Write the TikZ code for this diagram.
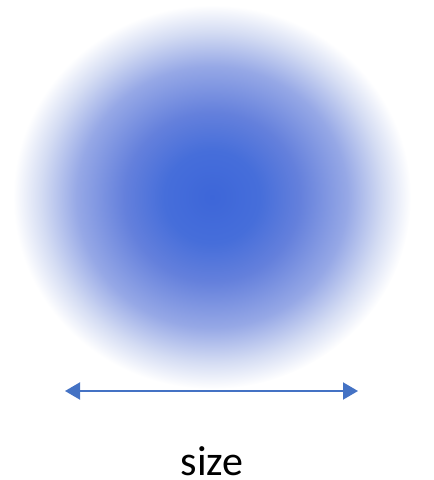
\documentclass[tikz,border=0pt]{standalone}
\usepackage{fontspec}
\setmainfont{Carlito}
\usetikzlibrary{arrows.meta,shapes.geometric}
\definecolor{arrowblue}{HTML}{4472C4}
\definecolor{c0}{RGB}{61,102,217}
\definecolor{c1}{RGB}{70,110,218}
\definecolor{c2}{RGB}{100,128,220}
\definecolor{c3}{RGB}{150,168,230}
\definecolor{c4}{RGB}{212,220,243}
\pgfdeclareradialshading{ball}{\pgfpoint{0bp}{0bp}}{color(0bp)=(c0); color(6bp)=(c1); color(11bp)=(c2); color(17bp)=(c3); color(21.5bp)=(c4); color(25bp)=(white); color(50bp)=(white)}
\tikzset{
  blob/.style={ellipse, minimum width=398pt, minimum height=384pt, inner sep=0pt, shading=ball},
  sizearrow/.style={draw=arrowblue, line width=2pt, {Triangle[length=15pt,width=17pt]}-{Triangle[length=15pt,width=17pt]}},
  label/.style={font=\fontsize{42pt}{50pt}\selectfont, anchor=base, inner sep=0pt}
}
\begin{document}
\begin{tikzpicture}[x=1pt,y=-1pt]
\useasboundingbox (0,0) rectangle (434,480);
\node[blob] (ball) at (212,197) {};
\coordinate (L) at (65,391);
\coordinate (R) at (358,391);
\draw[sizearrow] (L) -- (R);
\node[label] (size) at (212,475) {size};
\end{tikzpicture}
\end{document}
